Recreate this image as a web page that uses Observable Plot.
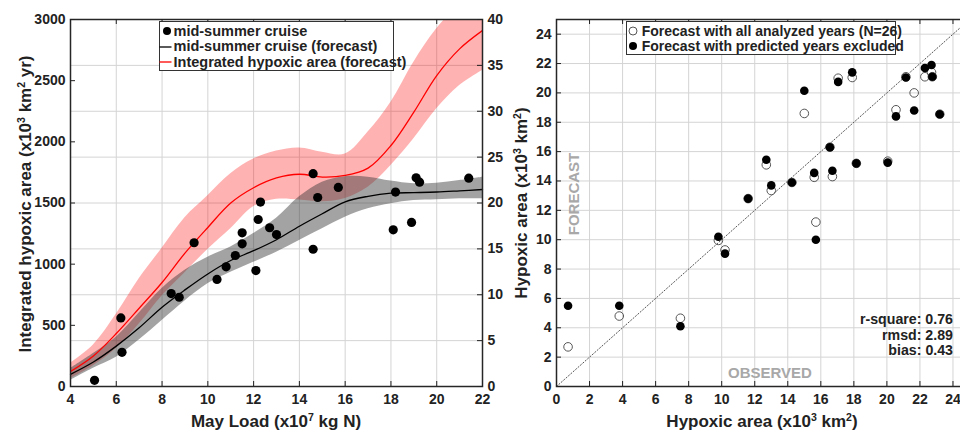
<!DOCTYPE html>
<html><head><meta charset="utf-8">
<script src="https://cdn.jsdelivr.net/npm/d3@7"></script>
<script src="https://cdn.jsdelivr.net/npm/@observablehq/plot@0.6"></script>
<style>
html,body{margin:0;padding:0;background:#fff;overflow:hidden;}
#wrap{position:relative;width:960px;height:431px;overflow:hidden;font-family:"Liberation Sans",Arial,sans-serif;font-weight:bold;color:#222;}
.abs{position:absolute;white-space:nowrap;}
.chart{position:absolute;top:0;}
.chart svg{max-width:none !important;}
.sup{font-size:0.62em;position:relative;top:-0.55em;line-height:0;}
.rot{transform:translate(-50%,-50%) rotate(-90deg);}
.ctr{transform:translate(-50%,-50%);}
.legend{position:absolute;box-sizing:border-box;border:1.5px solid #333;background:#fff;}
</style></head><body><div id="wrap"></div>
<script>
// ---------- LEFT PANEL DATA ----------
const K = 3000 / 40; // left axis (x10^3 km^2 yr) per right-axis unit (x10^3 km^2)
const loadGrid   = [4,5,6,7,8,9,10,11,12,13,14,15,16,17,18,19,20,21,22];
// Integrated hypoxic area forecast (x10^3 km^2 yr)
const redMean    = [123,250,433,640,850,1090,1300,1500,1625,1705,1735,1712,1725,1785,1970,2243,2542,2760,2910];
const redUpper   = [190,340,590,880,1130,1380,1560,1740,1860,1925,1950,1915,1900,2080,2324,2651,2924,3120,3260];
const redLower   = [65,170,310,510,740,930,1120,1290,1470,1530,1525,1510,1537,1629,1807,2025,2270,2460,2583];
// Mid-summer cruise forecast (x10^3 km^2)
const blackMean  = [1.33,2.67,4.4,6.4,8.64,10.53,12.27,13.73,14.8,16.0,17.47,18.83,20.13,20.73,21.07,21.13,21.2,21.33,21.47];
const blackUpper = [1.96,3.6,5.37,8.0,10.67,12.67,14.09,15.2,16.67,18.33,20.67,22.27,22.87,22.81,22.39,22.09,22.16,22.45,22.81];
const blackLower = [0.67,2.0,3.2,5.07,7.2,9.33,11.2,12.45,13.53,14.64,15.91,17.19,18.45,19.36,19.92,20.27,20.35,20.45,20.45];
// Mid-summer cruise observations
const cruiseLoad = [5.05,6.2,6.25,8.4,8.75,9.4,10.4,10.8,11.2,11.5,11.5,12.1,12.2,12.3,12.7,13.0,14.6,14.6,14.8,15.7,18.1,18.2,18.9,19.1,19.25,21.4];
const cruiseArea = [0.67,7.47,3.73,10.13,9.73,15.67,11.67,13.04,14.28,15.55,16.75,12.64,18.2,20.1,17.3,16.56,23.2,14.96,20.6,21.7,17.08,21.19,17.88,22.75,22.27,22.71];
const xTicksL    = [4,6,8,10,12,14,16,18,20,22];
const yTicksL    = [0,500,1000,1500,2000,2500,3000];
const yTicksR    = [0,5,10,15,20,25,30,35,40];

// ---------- RIGHT PANEL DATA ----------
const observed     = [0.7,3.8,7.5,9.8,10.2,11.6,12.7,13.0,14.25,15.0,15.6,15.7,16.55,16.7,17.05,17.9,18.15,20.05,20.55,21.15,21.65,22.3,22.7,22.75,23.2];
const forecastAll  = [2.7,4.8,4.65,9.95,9.3,12.8,15.1,13.35,13.9,18.6,14.25,11.2,16.3,14.3,21.0,21.05,15.2,15.35,18.85,21.1,20.0,21.1,21.4,21.1,18.55];
const forecastExcl = [5.5,5.5,4.1,10.2,9.05,12.8,15.45,13.7,13.9,20.15,14.55,10.0,16.3,14.7,20.75,21.4,15.2,15.25,18.4,21.05,18.8,21.7,21.9,21.1,18.55];
const ticksR       = [0,2,4,6,8,10,12,14,16,18,20,22,24];
const identityLine = [0,25];
const statLines    = ["r-square: 0.76","rmsd: 2.89","bias: 0.43"];

// ---------- BUILD ----------
const wrap = document.getElementById("wrap");
const font = '"Liberation Sans", Arial, sans-serif';
const baseStyle = {background:"transparent", fontFamily:font, fontSize:"14px", fontWeight:"bold", color:"#222", overflow:"visible"};
const gridStyle = {stroke:"#d4d4d4", strokeOpacity:1, strokeWidth:1};
const plain = d => String(d);

function tickMarks(xt, yl, yr, pw, ph, len) {
  return [
    Plot.tickX(xt, {x:d=>d, insetTop:ph-len, stroke:"#222"}),
    Plot.tickX(xt, {x:d=>d, insetBottom:ph-len, stroke:"#222"}),
    Plot.tickY(yl, {y:d=>d, insetRight:pw-len, stroke:"#222"}),
    Plot.tickY(yr, {y:d=>d, insetLeft:pw-len, stroke:"#222"})
  ];
}

const rows = loadGrid.map((x,i)=>({x, red:redMean[i], redLo:redLower[i], redHi:redUpper[i],
  blk:blackMean[i]*K, blkLo:blackLower[i]*K, blkHi:blackUpper[i]*K}));
const cruise = cruiseLoad.map((l,i)=>({load:l, area:cruiseArea[i]}));
const yTicksRs = yTicksR.map(d=>d*K);

const LW=520, LH=431, LML=70, LMR=38, LMT=19, LMB=45;
const left = Plot.plot({
  width:LW, height:LH, marginLeft:LML, marginRight:LMR, marginTop:LMT, marginBottom:LMB,
  x:{domain:[4,22]}, y:{domain:[0,3000]},
  style:baseStyle,
  marks:[
    Plot.gridX(xTicksL, gridStyle),
    Plot.gridY(yTicksRs, gridStyle),
    Plot.areaY(rows, {x:"x", y1:"redLo", y2:"redHi", fill:"#ff0000", fillOpacity:0.3, curve:"catmull-rom", clip:true}),
    Plot.areaY(rows, {x:"x", y1:"blkLo", y2:"blkHi", fill:"#333", fillOpacity:0.45, curve:"catmull-rom"}),
    Plot.line(rows, {x:"x", y:"blk", stroke:"#000", strokeWidth:1.3, curve:"catmull-rom"}),
    Plot.line(rows, {x:"x", y:"red", stroke:"#ff0000", strokeWidth:1.3, curve:"catmull-rom", clip:true}),
    Plot.dot(cruise, {x:"load", y:d=>d.area*K, r:4.6, fill:"#000"}),
    Plot.frame({stroke:"#262626", strokeWidth:1.5}),
    ...tickMarks(xTicksL, yTicksL, yTicksRs, LW-LML-LMR, LH-LMT-LMB, 5),
    Plot.axisX(xTicksL, {tickSize:0, tickPadding:8, label:null, tickFormat:plain}),
    Plot.axisY(yTicksL, {anchor:"left", tickSize:0, tickPadding:5, label:null, tickFormat:plain}),
    Plot.axisY(yTicksRs, {anchor:"right", tickSize:0, tickPadding:5, tickFormat:d=>String(Math.round(d/K)), label:null})
  ]
});
const ld = document.createElement("div"); ld.className="chart"; ld.style.left="0px"; ld.style.width=LW+"px";
ld.appendChild(left); wrap.appendChild(ld);

const pts = observed.map((o,i)=>({obs:o, all:forecastAll[i], excl:forecastExcl[i]}));
const RW=480, RH=431, RML=56, RMR=11, RMT=19, RMB=45;
const right = Plot.plot({
  width:RW, height:RH, marginLeft:RML, marginRight:RMR, marginTop:RMT, marginBottom:RMB,
  x:{domain:[0,25]}, y:{domain:[0,25]},
  style:baseStyle,
  marks:[
    Plot.gridX(ticksR, gridStyle),
    Plot.gridY(ticksR, gridStyle),
    Plot.line(identityLine.map(v=>({v})), {x:"v", y:"v", stroke:"#555", strokeWidth:1, strokeDasharray:"1.2,2"}),
    Plot.dot(pts, {x:"obs", y:"all", r:4.3, stroke:"#555", strokeWidth:1, fill:"none"}),
    Plot.dot(pts, {x:"obs", y:"excl", r:4.3, fill:"#000"}),
    Plot.frame({stroke:"#262626", strokeWidth:1.5}),
    ...tickMarks(ticksR, ticksR, ticksR, RW-RML-RMR, RH-RMT-RMB, 5),
    Plot.axisX(ticksR, {tickSize:0, tickPadding:8, label:null, tickFormat:plain}),
    Plot.axisY(ticksR, {anchor:"left", tickSize:0, tickPadding:5, label:null, tickFormat:plain})
  ]
});
const rd = document.createElement("div"); rd.className="chart"; rd.style.left="500px"; rd.style.width=RW+"px";
rd.appendChild(right); wrap.appendChild(rd);

// ---------- TEXT OVERLAYS ----------
function txt(html, x, y, cls, size, color, extra) {
  const d = document.createElement("div");
  d.className = "abs " + (cls||"");
  d.style.left = x+"px"; d.style.top = y+"px";
  d.style.fontSize = size+"px"; d.style.lineHeight = size+"px";
  if (color) d.style.color = color;
  if (extra) Object.assign(d.style, extra);
  d.innerHTML = html;
  wrap.appendChild(d);
  return d;
}
const s = t => `<span class="sup">${t}</span>`;
txt(`Integrated hypoxic area (x10${s("3")} km${s("2")} yr)`, 24.5, 203.5, "rot", 17);
txt(`Hypoxic area (x10${s("3")} km${s("2")})`, 521, 202.5, "rot", 17);
txt(`May Load (x10${s("7")} kg N)`, 276, 421, "ctr", 17);
txt(`Hypoxic area (x10${s("3")} km${s("2")})`, 762, 421, "ctr", 17);
txt(`FORECAST`, 572.5, 194, "rot", 15, "#a8a8a8");
txt(`OBSERVED`, 770, 371.5, "ctr", 15, "#a8a8a8");
statLines.forEach((t,i)=>{
  txt(t, 0, 312 + i*15.5, "", 13.8, "#222", {left:"auto", right:"7px", textAlign:"right", lineHeight:"15.5px", fontSize:"14.2px"});
});

// Left legend
const lg = document.createElement("div"); lg.className="legend";
Object.assign(lg.style,{left:"158.5px", top:"20.5px", width:"235px", height:"50px"}); wrap.appendChild(lg);
const legL = [
  {y:31, label:"mid-summer cruise", sym:'<circle cx="8" cy="8" r="4" fill="#000"/>'},
  {y:46.7, label:"mid-summer cruise (forecast)", sym:'<line x1="0.5" x2="12.5" y1="8" y2="8" stroke="#000" stroke-width="1.3"/>'},
  {y:62.3, label:"Integrated hypoxic area (forecast)", sym:'<line x1="0.5" x2="12.5" y1="8" y2="8" stroke="#f00" stroke-width="1.3"/>'}
];
legL.forEach(r=>{
  const sv = document.createElement("div"); sv.className="abs";
  Object.assign(sv.style,{left:"159px", top:(r.y-8)+"px"});
  sv.innerHTML = `<svg width="16" height="16" style="display:block">${r.sym}</svg>`;
  wrap.appendChild(sv);
  txt(r.label, 173.5, r.y-8.3, "", 14.5, "#222", {lineHeight:"16px"});
});
// Right legend
const rg = document.createElement("div"); rg.className="legend";
Object.assign(rg.style,{left:"626px", top:"20.7px", width:"270px", height:"34.8px"}); wrap.appendChild(rg);
const legR = [
  {y:31, label:"Forecast with all analyzed years (N=26)", sym:'<circle cx="8" cy="8" r="4" fill="none" stroke="#555" stroke-width="1"/>'},
  {y:46, label:"Forecast with predicted years excluded", sym:'<circle cx="8" cy="8" r="4" fill="#000"/>'}
];
legR.forEach(r=>{
  const sv = document.createElement("div"); sv.className="abs";
  Object.assign(sv.style,{left:"625.3px", top:(r.y-8)+"px"});
  sv.innerHTML = `<svg width="16" height="16" style="display:block">${r.sym}</svg>`;
  wrap.appendChild(sv);
  txt(r.label, 641.7, r.y-8.2, "", 14, "#222", {lineHeight:"16px"});
});
</script></body></html>
